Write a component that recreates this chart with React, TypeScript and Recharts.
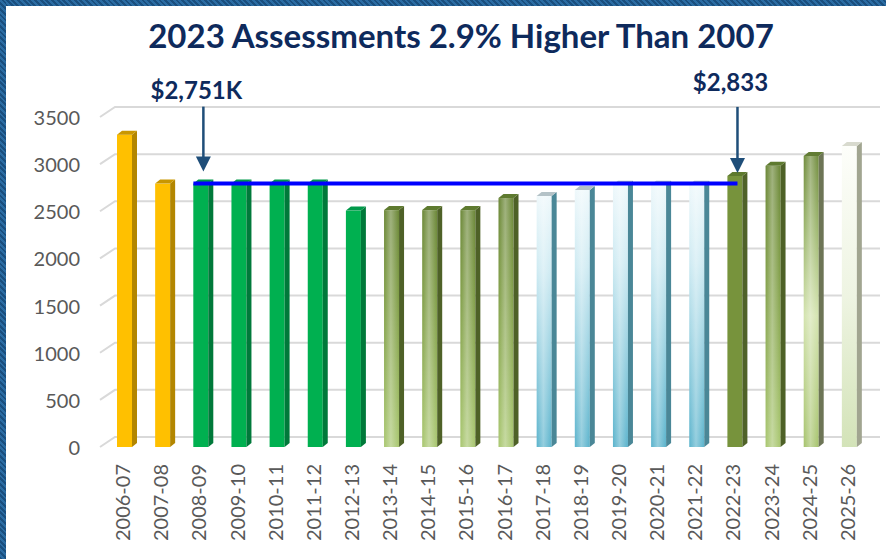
import React from 'react';
import { ComposedChart, Bar, XAxis, YAxis, CartesianGrid, ReferenceLine, ReferenceDot } from 'recharts';

const categories = ['2006-07', '2007-08', '2008-09', '2009-10', '2010-11', '2011-12', '2012-13', '2013-14', '2014-15', '2015-16', '2016-17', '2017-18', '2018-19', '2019-20', '2020-21', '2021-22', '2022-23', '2023-24', '2024-25', '2025-26'];
const assessments = [3270, 2751, 2751, 2751, 2751, 2751, 2465, 2470, 2470, 2470, 2598, 2619, 2683, 2740, 2740, 2740, 2833, 2940, 3045, 3150];
const yTicks = [0, 500, 1000, 1500, 2000, 2500, 3000, 3500];
const titleText = '2023 Assessments 2.9% Higher Than 2007';
const baselineValue = 2751;
const baselineFrom = '2008-09';
const baselineTo = '2022-23';
const annotationCategories = ['2008-09', '2022-23'];
const annotationValues = [2751, 2833];
const annotationLabels = ['$2,751K', '$2,833'];

// styling (not data)
const barTheme = ['gold', 'gold', 'green', 'green', 'green', 'green', 'green', 'olive', 'olive', 'olive', 'olive', 'sky', 'sky', 'sky', 'sky', 'sky', 'oliveSolid', 'olive', 'oliveLight', 'cream'];
const themes: Record<string, any> = {
  gold: { front: [['0', '#FFC000'], ['1', '#FFC000']], side: '#B38600', top: '#C99700', hl: false },
  green: { front: [['0', '#00B050'], ['1', '#00B050']], side: '#00793A', top: '#00994A', hl: false },
  olive: { front: [['0', '#6A8636'], ['0.35', '#7E9C45'], ['1', '#A9C770']], side: '#4E6127', top: '#5E7A2F', hl: true },
  sky: { front: [['0', '#EEF8FB'], ['0.3', '#CDEAF2'], ['1', '#5AB3CC']], side: '#4A8797', top: '#B4C2C7', hl: true },
  oliveSolid: { front: [['0', '#77933C'], ['1', '#77933C']], side: '#4F6228', top: '#5E7A2E', hl: false },
  oliveLight: { front: [['0', '#6F8B3B'], ['0.25', '#9BB56B'], ['0.55', '#D3E3AE'], ['1', '#A6C36C']], side: '#6D7556', top: '#627C34', hl: true },
  cream: { front: [['0', '#FDFEFA'], ['0.5', '#EEF4E2'], ['1', '#D3E3B8']], side: '#A1A590', top: '#D8DACE', hl: false },
};

const FONT = 'Lato, "Open Sans", sans-serif';
const data = categories.map((c, i) => ({ category: c, value: assessments[i] }));

const Bar3D = (props: any) => {
  const { x, y, width, height, index } = props;
  if (width == null || height == null) return null;
  const t = themes[barTheme[index]];
  const d = 5;
  const lift = 4;
  const fw = width - d;
  const bottom = y + height + 4;
  const id = `bar3d-${index}`;
  return (
    <g>
      <defs>
        <linearGradient id={`${id}-f`} x1="0" y1="0" x2="0" y2="1">
          {t.front.map((s: any, k: number) => <stop key={k} offset={s[0]} stopColor={s[1]} />)}
        </linearGradient>
        <linearGradient id={`${id}-h`} x1="0" y1="0" x2="1" y2="0">
          <stop offset="0" stopColor="#ffffff" stopOpacity={0} />
          <stop offset="0.45" stopColor="#ffffff" stopOpacity={0.35} />
          <stop offset="1" stopColor="#ffffff" stopOpacity={0} />
        </linearGradient>
      </defs>
      <rect x={x} y={y} width={fw} height={bottom - y} fill={`url(#${id}-f)`} />
      {t.hl && <rect x={x} y={y} width={fw} height={bottom - y} fill={`url(#${id}-h)`} />}
      <polygon points={`${x + fw},${y} ${x + width},${y - lift} ${x + width},${bottom - lift} ${x + fw},${bottom}`} fill={t.side} />
      <polygon points={`${x},${y} ${x + d},${y - lift} ${x + width},${y - lift} ${x + fw},${y}`} fill={t.top} />
    </g>
  );
};

const gridLine = (p: any) => {
  const { x1, x2, y1 } = p;
  return (
    <path key={`gl-${y1}`} d={`M${x1 - 8},${y1 + 4} L${x1 + 7},${y1 - 6} L${x2 + 9},${y1 - 6}`} stroke="#D9D9D9" strokeWidth={2} fill="none" />
  );
};

const YTick = (p: any) => {
  const { x, y, payload } = p;
  return (
    <text x={x - 20} y={y + 4} textAnchor="end" dominantBaseline="central" fill="#595959" fontSize={20} fontFamily={FONT}>
      {payload.value}
    </text>
  );
};

const XTick = (p: any) => {
  const { x, y, payload } = p;
  return (
    <text transform={`translate(${x + 3},${y + 13}) rotate(-90)`} textAnchor="end" fill="#595959" fontSize={20} fontFamily={FONT}>
      {payload.value}
    </text>
  );
};

const makeAnnotation = (label: string, shaftTop: number, tipGap: number) => (p: any) => {
  const { cx, cy } = p;
  const tip = cy - tipGap;
  const headH = 15;
  return (
    <g>
      <line x1={cx} y1={cy - shaftTop} x2={cx} y2={tip - headH + 1} stroke="#1F4E79" strokeWidth={2.5} />
      <polygon points={`${cx - 7.5},${tip - headH} ${cx + 7.5},${tip - headH} ${cx},${tip}`} fill="#1F4E79" />
      <text x={cx - 7} y={cy - 94} textAnchor="middle" dominantBaseline="central" fill="#0E2A5C" fontSize={24} fontWeight={700} fontFamily={FONT}>
        {label}
      </text>
    </g>
  );
};

const annotationShapes = [makeAnnotation(annotationLabels[0], 77, 12), makeAnnotation(annotationLabels[1], 69, 3)];

const stripe = 'repeating-linear-gradient(45deg, #1A4F7F 0px, #1A4F7F 2px, #2B6CA3 2px, #2B6CA3 4px)';

export default function App() {
  return (
    <div style={{ position: 'absolute', left: 0, top: 0, width: 886, height: 559, background: '#ffffff', overflow: 'hidden' }}>
      <div style={{ position: 'absolute', left: 0, top: 0, width: 886, height: 6, background: stripe }} />
      <div style={{ position: 'absolute', left: 0, top: 0, width: 6, height: 559, background: stripe }} />
      <div style={{ position: 'absolute', left: 461, top: 15, transform: 'translateX(-50%)', whiteSpace: 'nowrap', fontFamily: FONT, fontWeight: 700, fontSize: 33, color: '#0E2A5C', lineHeight: '40px' }}>
        {titleText}
      </div>
      <div style={{ position: 'absolute', left: 0, top: 0 }}>
        <ComposedChart width={886} height={559} data={data} margin={{ top: 113, right: 15, bottom: 16, left: 28 }} barCategoryGap={0}>
          <CartesianGrid vertical={false} horizontal={gridLine} />
          <XAxis dataKey="category" interval={0} axisLine={false} tickLine={false} height={100} tick={<XTick />} />
          <YAxis domain={[0, 3500]} ticks={yTicks} width={80} axisLine={false} tickLine={false} tick={<YTick />} />
          <Bar dataKey="value" barSize={20} shape={Bar3D} isAnimationActive={false} />
          <ReferenceLine
            segment={[{ x: baselineFrom, y: baselineValue }, { x: baselineTo, y: baselineValue }]}
            shape={(p: any) => <line x1={p.x1 - 10} y1={p.y1} x2={p.x2} y2={p.y2} stroke="#0000FF" strokeWidth={4} />}
          />
          {annotationCategories.map((c, i) => (
            <ReferenceDot key={c} x={c} y={annotationValues[i]} r={0} shape={annotationShapes[i]} />
          ))}
        </ComposedChart>
      </div>
    </div>
  );
}
